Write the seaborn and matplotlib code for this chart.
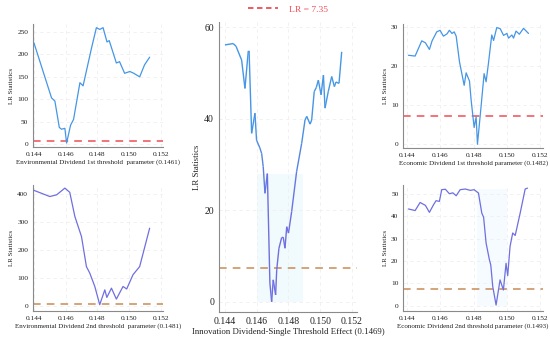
import matplotlib
matplotlib.use("Agg")
import matplotlib.pyplot as plt
import seaborn as sns
import numpy as np
import pandas as pd
from matplotlib.lines import Line2D
from matplotlib.collections import LineCollection

# threshold value of the LR test
lr_crit = 7.35

# Environmental dividend, 1st threshold
env1_x = [0.14400, 0.14511, 0.14532, 0.14560, 0.14574, 0.14595, 0.14606, 0.14631, 0.14650,
          0.14690, 0.14710, 0.14763, 0.14794, 0.14815, 0.14836, 0.14861, 0.14875, 0.14920,
          0.14940, 0.14972, 0.15005, 0.15030, 0.15067, 0.15098, 0.15130]
env1_y = [226, 103, 96, 37, 33, 35, 2, 42, 55,
          137, 130, 214, 260, 256, 260, 228, 231, 181,
          184, 158, 162, 158, 150, 177, 194]

# Environmental dividend, 2nd threshold
env2_x = [0.14400, 0.14500, 0.14543, 0.14595, 0.14626, 0.14658, 0.14700, 0.14731, 0.14752,
          0.14784, 0.14815, 0.14847, 0.14860, 0.14889, 0.14920, 0.14962, 0.14985, 0.15025,
          0.15067, 0.15130]
env2_y = [412, 390, 396, 420, 405, 319, 247, 140, 117,
          69, 4, 57, 30, 63, 24, 69, 60, 111,
          140, 277]

# Innovation dividend, single threshold
inn_x = [0.14400, 0.14452, 0.14470, 0.14505, 0.14526, 0.14547, 0.14552, 0.14568, 0.14589,
         0.14599, 0.14620, 0.14631, 0.14641, 0.14652, 0.14667, 0.14683, 0.14694, 0.14704,
         0.14719, 0.14726, 0.14740, 0.14757, 0.14767, 0.14778, 0.14789, 0.14800, 0.14820,
         0.14851, 0.14883, 0.14904, 0.14915, 0.14936, 0.14946, 0.14962, 0.14975, 0.14988,
         0.15005, 0.15020, 0.15030, 0.15051, 0.15072, 0.15089, 0.15099, 0.15118, 0.15135]
inn_y = [56.1, 56.4, 55.8, 52.8, 46.6, 54.8, 54.8, 36.8, 41.2,
         35.3, 33.6, 32.4, 29.5, 23.7, 28.0, 4.1, 0.0, 4.8,
         1.5, 7.0, 11.7, 14.0, 14.1, 11.7, 16.4, 15.0, 19.7,
         28.4, 34.6, 39.7, 40.5, 38.8, 39.7, 45.9, 46.8, 48.4,
         45.2, 49.5, 42.3, 46.0, 49.2, 47.0, 48.0, 47.7, 54.6]

# Economic dividend, 1st threshold
eco1_x = [0.14408, 0.14448, 0.14488, 0.14510, 0.14534, 0.14550, 0.14578, 0.14598, 0.14618,
          0.14640, 0.14654, 0.14670, 0.14683, 0.14695, 0.14715, 0.14743, 0.14755, 0.14775,
          0.14785, 0.14803, 0.14815, 0.14823, 0.14843, 0.14863, 0.14875, 0.14889, 0.14909,
          0.14920, 0.14939, 0.14960, 0.14980, 0.15000, 0.15010, 0.15030, 0.15040, 0.15055,
          0.15075, 0.15100, 0.15130]
eco1_y = [22.8, 22.6, 26.5, 26.0, 24.3, 26.5, 28.8, 29.2, 27.7,
          28.3, 29.2, 28.4, 28.8, 27.7, 21.1, 15.1, 18.3, 16.2,
          11.3, 4.3, 7.0, 0.0, 8.9, 18.1, 16.0, 20.7, 28.0,
          26.6, 29.9, 29.6, 27.9, 28.4, 27.2, 28.0, 27.2, 29.0,
          28.2, 29.7, 28.4]

# Economic dividend, 2nd threshold
eco2_x = [0.14408, 0.14448, 0.14478, 0.14510, 0.14534, 0.14558, 0.14574, 0.14594, 0.14608,
          0.14630, 0.14654, 0.14675, 0.14695, 0.14719, 0.14750, 0.14780, 0.14803, 0.14829,
          0.14849, 0.14860, 0.14875, 0.14895, 0.14903, 0.14915, 0.14935, 0.14959, 0.14979,
          0.14995, 0.15005, 0.15019, 0.15035, 0.15050, 0.15080, 0.15110, 0.15124]
eco2_y = [43.2, 42.5, 46.1, 44.8, 41.7, 45.0, 46.9, 46.6, 51.8,
          52.0, 50.0, 50.4, 49.1, 51.8, 52.1, 51.5, 51.8, 50.3,
          41.4, 39.5, 28.0, 20.5, 18.3, 8.6, 0.4, 11.6, 7.1,
          19.0, 13.5, 26.5, 32.5, 31.4, 41.4, 52.1, 52.5]

x_labels = {
    "env1": "Environmental Dividend 1st threshold  parameter (0.1461)",
    "env2": "Environmental Dividend 2nd threshold  parameter (0.1481)",
    "inn": "Innovation Dividend-Single Threshold Effect (0.1469)",
    "eco1": "Economic Dividend 1st threshold parameter (0.1482)",
    "eco2": "Economic Dividend 2nd threshold parameter (0.1493)",
}

sns.set_theme(style="white")
plt.rcParams["font.family"] = ["Liberation Serif", "DejaVu Serif"]

blue = "#4596e6"
purple = "#6f6fe0"
red = "#ef4d55"
brown = "#c98a55"

fig = plt.figure(figsize=(5.5, 3.39), dpi=100)

axes = {
    "env1": fig.add_axes([0.060, 0.566, 0.236, 0.363]),
    "env2": fig.add_axes([0.060, 0.083, 0.236, 0.372]),
    "inn": fig.add_axes([0.398, 0.080, 0.251, 0.855]),
    "eco1": fig.add_axes([0.733, 0.563, 0.2545, 0.366]),
    "eco2": fig.add_axes([0.733, 0.083, 0.2545, 0.372]),
}

setup = {
    # key: x, y, line colour, dash colour, ylim, yticks, xlim
    "env1": (env1_x, env1_y, blue, red, (-7, 268), [0, 50, 100, 150, 200, 250], (0.14394, 0.15213)),
    "env2": (env2_x, env2_y, purple, brown, (-18, 432), [0, 100, 200, 300, 400], (0.14394, 0.15213)),
    "inn": (inn_x, inn_y, blue, brown, (-2.2, 61.1), [0, 20, 40, 60], (0.14362, 0.15231)),
    "eco1": (eco1_x, eco1_y, blue, red, (-1.0, 30.8), [0, 10, 20, 30], (0.14376, 0.15218)),
    "eco2": (eco2_x, eco2_y, purple, brown, (-2.2, 54), [0, 10, 20, 30, 40, 50], (0.14376, 0.15218)),
}

xticks = [0.144, 0.146, 0.148, 0.150, 0.152]

for key, ax in axes.items():
    xs, ys, col, dcol, ylim, yticks, xlim = setup[key]
    big = key == "inn"
    df = pd.DataFrame({"x": xs, "y": ys})

    # very faint shading around the minimum
    if key == "inn":
        ax.fill_between([0.1460, 0.1489], 0, 28, color="#f1fafd", zorder=0, lw=0)
    if key == "eco2":
        ax.fill_between([0.1482, 0.1500], 0, 52, color="#f5fbfe", zorder=0, lw=0)

    if key == "inn":
        # colour shifts from blue to purple as the statistic drops
        pts = np.column_stack([xs, ys]).reshape(-1, 1, 2)
        segs = np.concatenate([pts[:-1], pts[1:]], axis=1)
        mids = (np.array(ys[:-1]) + np.array(ys[1:])) / 2
        cmap = matplotlib.colors.LinearSegmentedColormap.from_list("bp", [purple, purple, blue, blue])
        lc = LineCollection(segs, cmap=cmap, norm=plt.Normalize(0, 60), lw=1.0, zorder=3)
        lc.set_array(mids)
        ax.add_collection(lc)
    else:
        sns.lineplot(data=df, x="x", y="y", ax=ax, color=col, lw=0.9, estimator=None, sort=False, zorder=3)

    ax.axhline(lr_crit, color=dcol, lw=1.1, ls=(0, (5, 4)), zorder=2)

    ax.set_xlim(*xlim)
    ax.set_ylim(*ylim)
    ax.set_xticks(xticks)
    ax.set_xticklabels([f"{t:.3f}" for t in xticks])
    ax.set_yticks(yticks)

    ax.grid(True, color="#efefef", lw=0.6, ls=(0, (4, 4)))
    for s in ["top", "right"]:
        ax.spines[s].set_visible(False)
    for s in ["left", "bottom"]:
        ax.spines[s].set_color("#8a8a8a")
        ax.spines[s].set_linewidth(0.8)

    fs_tick = 7 if big else 5.3
    fs_lab = 6.3 if big else 5.0
    ax.tick_params(axis="both", direction="out", length=2, width=0.6, color="#8a8a8a",
                   labelsize=fs_tick, pad=1.5, labelcolor="#222222")
    ax.set_xlabel(x_labels[key], fontsize=fs_lab, labelpad=1.5, color="#222222")
    ax.set_ylabel("LR Statistics", fontsize=fs_lab, labelpad=2, color="#222222")

handle = Line2D([], [], color=red, lw=1.3, ls=(0, (3, 2)))
fig.legend([handle], ["LR = 7.35"], loc="center", bbox_to_anchor=(0.524, 0.972), frameon=False,
           fontsize=6.8, labelcolor=red, handlelength=3.2, handletextpad=1.2)

fig.savefig("out.png", dpi=100)
